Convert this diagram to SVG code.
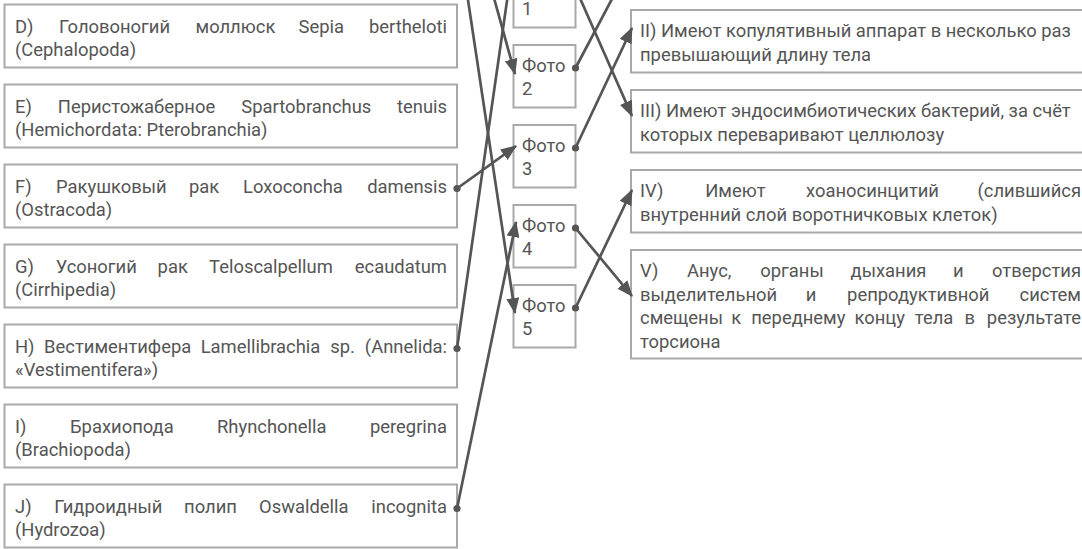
<svg xmlns="http://www.w3.org/2000/svg" width="1082" height="549" viewBox="0 0 1082 549">
<style>
.box{fill:#fff;stroke:#a9a9a9;stroke-width:2}
.t{font-family:Roboto,"Noto Sans","Liberation Sans",sans-serif;font-size:18.4px;fill:#555}
.e{text-anchor:end}
.conn{stroke:#555;stroke-width:2.7;fill:none}
.arr{marker-end:url(#ah)}
.dot{fill:#555}
</style>
<defs>
<marker id="ah" viewBox="0 0 16 13" refX="15" refY="6.5" markerWidth="16" markerHeight="13" markerUnits="userSpaceOnUse" orient="auto">
<path d="M0,0 L16,6.5 L0,13 z" fill="#555"/>
</marker>
</defs>
<rect x="0" y="0" width="1082" height="549" fill="#fff"/>

<g id="node-D">
<rect class="box" x="4.5" y="4.5" width="452.5" height="63"/>
<text class="t" y="32.5"><tspan x="15">D)</tspan> <tspan x="59">Головоногий</tspan> <tspan x="195.5">моллюск</tspan> <tspan x="298.6">Sepia</tspan> <tspan x="447" class="e">bertheloti</tspan></text>
<text class="t" x="15" y="56">(Cephalopoda)</text>
</g>
<g id="node-E">
<rect class="box" x="4.5" y="84.5" width="452.5" height="63"/>
<text class="t" y="112.5"><tspan x="15">E)</tspan> <tspan x="57.8">Перистожаберное</tspan> <tspan x="241.3">Spartobranchus</tspan> <tspan x="447" class="e">tenuis</tspan></text>
<text class="t" x="15" y="136">(Hemichordata: Pterobranchia)</text>
</g>
<g id="node-F">
<rect class="box" x="4.5" y="164.5" width="452.5" height="63"/>
<text class="t" y="192.5"><tspan x="15">F)</tspan> <tspan x="56">Ракушковый</tspan> <tspan x="188.9">рак</tspan> <tspan x="243.1">Loxoconcha</tspan> <tspan x="447" class="e">damensis</tspan></text>
<text class="t" x="15" y="216">(Ostracoda)</text>
</g>
<g id="node-G">
<rect class="box" x="4.5" y="244.5" width="452.5" height="63"/>
<text class="t" y="272.5"><tspan x="15">G)</tspan> <tspan x="55.7">Усоногий</tspan> <tspan x="157.6">рак</tspan> <tspan x="209.1">Teloscalpellum</tspan> <tspan x="447" class="e">ecaudatum</tspan></text>
<text class="t" x="15" y="296">(Cirrhipedia)</text>
</g>
<g id="node-H">
<rect class="box" x="4.5" y="324.5" width="452.5" height="63"/>
<text class="t" y="352.5"><tspan x="15">H)</tspan> <tspan x="44.1">Вестиментифера</tspan> <tspan x="200.7">Lamellibrachia</tspan> <tspan x="330.3">sp.</tspan> <tspan x="447" class="e">(Annelida:</tspan></text>
<text class="t" x="15" y="376">«Vestimentifera»)</text>
</g>
<g id="node-I">
<rect class="box" x="4.5" y="404.5" width="452.5" height="63"/>
<text class="t" y="432.5"><tspan x="15">I)</tspan> <tspan x="70">Брахиопода</tspan> <tspan x="217">Rhynchonella</tspan> <tspan x="447" class="e">peregrina</tspan></text>
<text class="t" x="15" y="456">(Brachiopoda)</text>
</g>
<g id="node-J">
<rect class="box" x="4.5" y="484.5" width="452.5" height="63"/>
<text class="t" y="512.5"><tspan x="15">J)</tspan> <tspan x="54.3">Гидроидный</tspan> <tspan x="184.1">полип</tspan> <tspan x="259">Oswaldella</tspan> <tspan x="447" class="e">incognita</tspan></text>
<text class="t" x="15" y="536">(Hydrozoa)</text>
</g>

<g id="photo-1">
<rect class="box" x="513.5" y="-35" width="62" height="62.5"/>
<text class="t" x="522" y="15">1</text>
</g>
<g id="photo-2">
<rect class="box" x="513.5" y="45" width="62" height="62.5"/>
<text class="t" x="522" y="71.5">Фото</text>
<text class="t" x="522" y="95">2</text>
</g>
<g id="photo-3">
<rect class="box" x="513.5" y="125" width="62" height="62.5"/>
<text class="t" x="522" y="151.5">Фото</text>
<text class="t" x="522" y="175">3</text>
</g>
<g id="photo-4">
<rect class="box" x="513.5" y="205" width="62" height="62.5"/>
<text class="t" x="522" y="231.5">Фото</text>
<text class="t" x="522" y="255">4</text>
</g>
<g id="photo-5">
<rect class="box" x="513.5" y="285" width="62" height="62.5"/>
<text class="t" x="522" y="311.5">Фото</text>
<text class="t" x="522" y="335">5</text>
</g>

<g id="node-II">
<rect class="box" x="631" y="10" width="480" height="62.5"/>
<text class="t" x="640" y="37">II) Имеют копулятивный аппарат в несколько раз</text>
<text class="t" x="640" y="60.5">превышающий длину тела</text>
</g>
<g id="node-III">
<rect class="box" x="631" y="90" width="480" height="62.5"/>
<text class="t" x="640" y="117">III) Имеют эндосимбиотических бактерий, за счёт</text>
<text class="t" x="640" y="140.5">которых переваривают целлюлозу</text>
</g>
<g id="node-IV">
<rect class="box" x="631" y="170" width="480" height="62.5"/>
<text class="t" y="197"><tspan x="640">IV)</tspan> <tspan x="705.2">Имеют</tspan> <tspan x="806">хоаносинцитий</tspan> <tspan x="1081" class="e">(слившийся</tspan></text>
<text class="t" x="640" y="220.5">внутренний слой воротничковых клеток)</text>
</g>
<g id="node-V">
<rect class="box" x="631" y="250" width="480" height="108.5"/>
<text class="t" y="277"><tspan x="640">V)</tspan> <tspan x="687">Анус,</tspan> <tspan x="760.3">органы</tspan> <tspan x="850.6">дыхания</tspan> <tspan x="953.1">и</tspan> <tspan x="1081" class="e">отверстия</tspan></text>
<text class="t" y="300.5"><tspan x="640">выделительной</tspan> <tspan x="805.7">и</tspan> <tspan x="847.1">репродуктивной</tspan> <tspan x="1081" class="e">систем</tspan></text>
<text class="t" y="324"><tspan x="640">смещены</tspan> <tspan x="731.2">к</tspan> <tspan x="751.2">переднему</tspan> <tspan x="854.4">концу</tspan> <tspan x="914.8">тела</tspan> <tspan x="964.4">в</tspan> <tspan x="1081" class="e">результате</tspan></text>
<text class="t" x="640" y="347.5">торсиона</text>
</g>

<g id="connectors">
<path class="conn arr" d="M457,188.5 L516,146"/>
<path class="conn arr" d="M457,508.5 L516,222"/>
<path class="conn" d="M457,348.5 L510,-20"/>
<path class="conn arr" d="M465,-20 L515,313"/>
<path class="conn arr" d="M489,-20 L515,74"/>
<path class="conn arr" d="M575.5,-12 L632,116"/>
<path class="conn" d="M575.5,68 L622,-20"/>
<path class="conn arr" d="M575.5,148 L632,28"/>
<path class="conn arr" d="M575.5,228 L632,296"/>
<path class="conn arr" d="M575.5,308 L632,190"/>
<circle class="dot" cx="457" cy="188.5" r="3.6"/>
<circle class="dot" cx="457" cy="348.5" r="3.6"/>
<circle class="dot" cx="457" cy="508.5" r="3.6"/>
<circle class="dot" cx="575.5" cy="68" r="3.6"/>
<circle class="dot" cx="575.5" cy="148" r="3.6"/>
<circle class="dot" cx="575.5" cy="228" r="3.6"/>
<circle class="dot" cx="575.5" cy="308" r="3.6"/>
</g>
</svg>
